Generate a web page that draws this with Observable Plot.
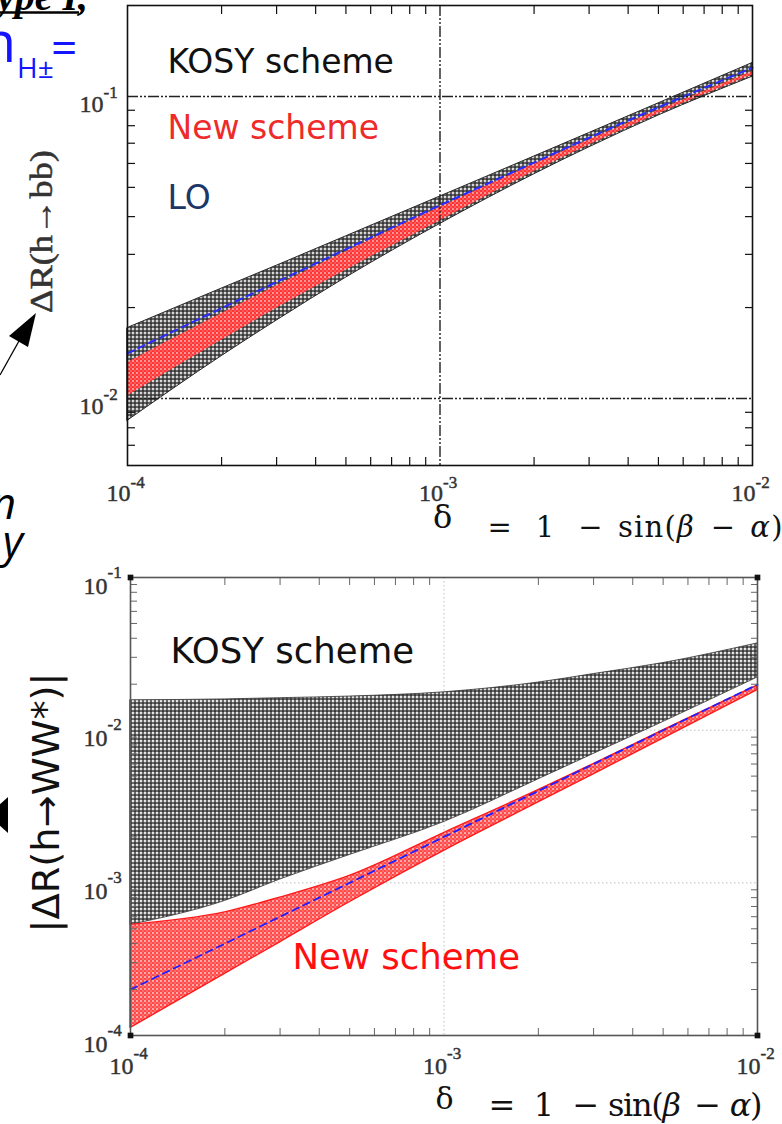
<!DOCTYPE html>
<html><head><meta charset="utf-8">
<script src="https://cdn.jsdelivr.net/npm/d3@7"></script>
<script src="https://cdn.jsdelivr.net/npm/@observablehq/plot@0.6"></script>
<style>
html,body{margin:0;padding:0;background:#fff;}
#wrap{position:relative;width:782px;height:1124px;overflow:hidden;background:#fff;}
#wrap > svg{position:absolute;left:0;}
</style></head><body><div id="wrap"></div>
<script>
// ---------- data ----------
const deltas = [1e-4, 2e-4, 3e-4, 5e-4, 1e-3, 2e-3, 3e-3, 5e-3, 1e-2];
// upper panel: ΔR(h→bb)
const bbKosyUpper = [0.0171, 0.0231, 0.0275, 0.0344, 0.0466, 0.0632, 0.0756, 0.0948, 0.1290];
const bbKosyLower = [0.00843, 0.0138, 0.0181, 0.0251, 0.0378, 0.0552, 0.0678, 0.0864, 0.1162];
const bbNewUpper  = [0.01315, 0.0191, 0.0236, 0.0306, 0.0430, 0.0596, 0.0717, 0.0900, 0.1210];
const bbNewLower  = [0.0102, 0.0156, 0.0199, 0.0266, 0.0388, 0.0564, 0.0690, 0.0877, 0.1178];
const bbLO        = [0.0141, 0.0199, 0.0243, 0.0312, 0.0436, 0.0604, 0.0730, 0.0920, 0.1245];
// lower panel: |ΔR(h→WW*)|
const wwKosyUpper = [0.0157, 0.0159, 0.0162, 0.0166, 0.0177, 0.0205, 0.0233, 0.0275, 0.0370];
const wwKosyLower = [0.00053, 0.00076, 0.00105, 0.00152, 0.00250, 0.00476, 0.00698, 0.0113, 0.0221];
const wwNewUpper  = [0.00053, 0.00064, 0.00080, 0.00111, 0.00212, 0.00405, 0.00600, 0.00995, 0.0196];
const wwNewLower  = [0.000112, 0.000253, 0.000408, 0.000746, 0.00162, 0.00336, 0.00514, 0.0088, 0.0183];
const wwLO        = [0.0002, 0.0004, 0.0006, 0.0010, 0.0020, 0.0040, 0.0060, 0.00998, 0.0199];

// axes / ticks
const xDomain = [1e-4, 1e-2];
const bbYDomain = [0.006, 0.2];
const wwYDomain = [1e-4, 1e-1];
const xTickValues = [1e-4, 1e-3, 1e-2];
const xTickExps = ["-4", "-3", "-2"];
const bbYTickValues = [0.1, 0.01];
const bbYTickExps = ["-1", "-2"];
const wwYTickValues = [0.1, 0.01, 0.001, 0.0001];
const wwYTickExps = ["-1", "-2", "-3", "-4"];
const minorX = [2e-4,3e-4,4e-4,5e-4,6e-4,7e-4,8e-4,9e-4,2e-3,3e-3,4e-3,5e-3,6e-3,7e-3,8e-3,9e-3];
const bbMinorY = [0.007,0.008,0.009,0.02,0.03,0.04,0.05,0.06,0.07,0.08,0.09];
const wwMinorY = [2e-4,3e-4,4e-4,5e-4,6e-4,7e-4,8e-4,9e-4,2e-3,3e-3,4e-3,5e-3,6e-3,7e-3,8e-3,9e-3,0.02,0.03,0.04,0.05,0.06,0.07,0.08,0.09];
const bbGridY = [0.1, 0.01];
const bbGridX = [1e-3];
const wwGridY = [0.01, 0.001];
const wwGridX = [1e-3];
const bbLegend = ["KOSY scheme", "New scheme", "LO"];
const bbLegendColors = ["#111", "#ee2a2a", "#1c3668"];
const wwLegend = ["KOSY scheme", "New scheme"];
const xLabelSym = ["δ"];
const xLabelFormula = ["= 1 − sin(β − α)"];
const bbYLabel = ["ΔR(h→bb)"];
const wwYLabel = ["|ΔR(h→WW*)|"];

const bbRows = deltas.map((d, i) => ({d, ku: bbKosyUpper[i], kl: bbKosyLower[i], nu: bbNewUpper[i], nl: bbNewLower[i], lo: bbLO[i]}));
const wwRows = deltas.map((d, i) => ({d, ku: wwKosyUpper[i], kl: wwKosyLower[i], nu: wwNewUpper[i], nl: wwNewLower[i], lo: wwLO[i]}));
const xTicks = xTickValues.map((v, i) => ({v, e: xTickExps[i]}));
const bbYTicks = bbYTickValues.map((v, i) => ({v, e: bbYTickExps[i]}));
const wwYTicks = wwYTickValues.map((v, i) => ({v, e: wwYTickExps[i]}));

const SERIF = "Liberation Serif";
const MATH = "DejaVu Serif";
const SANS = "DejaVu Sans";

function inTicks(xs, ys, len, stroke, sw) {
  const common = {stroke, strokeWidth: sw, fill: "none", label: null, tickSize: len, tickFormat: () => ""};
  return [
    Plot.axisX({...common, anchor: "bottom", ticks: xs, dy: -len}),
    Plot.axisX({...common, anchor: "top", ticks: xs, dy: len}),
    Plot.axisY({...common, anchor: "left", ticks: ys, dx: len}),
    Plot.axisY({...common, anchor: "right", ticks: ys, dx: -len})
  ];
}

function addPatterns(svg, suffix, grey, red) {
  const defs = d3.select(svg).insert("defs", ":first-child");
  const g = defs.append("pattern").attr("id", "kosy" + suffix).attr("patternUnits", "userSpaceOnUse").attr("width", 4).attr("height", 4);
  g.append("rect").attr("width", 4).attr("height", 4).attr("fill", grey[0]);
  g.append("circle").attr("cx", 1).attr("cy", 1).attr("r", 1.05).attr("fill", grey[1]);
  g.append("circle").attr("cx", 3).attr("cy", 3).attr("r", 0.85).attr("fill", grey[2]);
  const r = defs.append("pattern").attr("id", "new" + suffix).attr("patternUnits", "userSpaceOnUse").attr("width", 4).attr("height", 4);
  r.append("rect").attr("width", 4).attr("height", 4).attr("fill", red[0]);
  r.append("circle").attr("cx", 1).attr("cy", 1).attr("r", 0.95).attr("fill", red[1]);
  r.append("circle").attr("cx", 3).attr("cy", 3).attr("r", 0.9).attr("fill", red[2]);
}

function fixTexts(svg, formulaLen, ylabelText, ylabelLen) {
  const s = d3.select(svg);
  s.selectAll("text").filter(function () { return this.textContent.includes("sin("); }).each(function () {
    const t = d3.select(this);
    t.text(null);
    const parts = [["=\u2002\u20091\u2002\u2009−\u2009\u2009sin(", null], ["β", "italic"], ["\u2002−\u2009\u2009", null], ["α", "italic"], [")", null]];
    parts.forEach(([str, st]) => { const ts = t.append("tspan").text(str); if (st) ts.attr("font-style", st); });
    t.attr("textLength", formulaLen).attr("lengthAdjust", "spacing");
  });
  s.selectAll("text").filter(function () { return this.textContent === ylabelText; })
    .attr("textLength", ylabelLen).attr("lengthAdjust", "spacingAndGlyphs");
}

const tickTxt = {fontFamily: SERIF, fill: "#333", stroke: "#333", strokeWidth: 0.45};

// ---------- upper chart ----------
const chartA = Plot.plot({
  width: 782, height: 560,
  marginLeft: 127, marginRight: 30, marginTop: 5, marginBottom: 95,
  x: {type: "log", domain: xDomain},
  y: {type: "log", domain: bbYDomain},
  style: {background: "transparent", overflow: "visible"},
  marks: [
    Plot.areaY(bbRows, {x: "d", y1: "kl", y2: "ku", fill: "url(#kosyA)", stroke: "#2a2a2a", strokeWidth: 1, curve: "monotone-x"}),
    Plot.areaY(bbRows, {x: "d", y1: "nl", y2: "nu", fill: "url(#newA)", curve: "monotone-x"}),
    Plot.lineY(bbRows, {x: "d", y: "lo", stroke: "#2b2bff", strokeWidth: 2, strokeDasharray: "7,5", curve: "monotone-x"}),
    Plot.ruleY(bbGridY, {stroke: "#222", strokeWidth: 1.4, strokeDasharray: "11,2,2,2,2,2"}),
    Plot.ruleX(bbGridX, {stroke: "#222", strokeWidth: 1.4, strokeDasharray: "11,2,2,2,2,2"}),
    ...inTicks(minorX, bbMinorY, 8, "#111", 1.2),
    Plot.frame({stroke: "#111", strokeWidth: 1.6}),
    Plot.text(xTicks, {...tickTxt, x: "v", text: () => "10", frameAnchor: "bottom", textAnchor: "end", lineAnchor: "bottom", dx: 3, dy: 35, fontSize: "24px"}),
    Plot.text(xTicks, {...tickTxt, x: "v", text: "e", frameAnchor: "bottom", textAnchor: "start", lineAnchor: "bottom", dx: 3, dy: 22, fontSize: "17px"}),
    Plot.text(bbYTicks, {...tickTxt, y: "v", text: () => "10", frameAnchor: "left", textAnchor: "end", lineAnchor: "bottom", dx: -24, dy: 16, fontSize: "24px"}),
    Plot.text(bbYTicks, {...tickTxt, y: "v", text: "e", frameAnchor: "left", textAnchor: "start", lineAnchor: "bottom", dx: -24, dy: 2, fontSize: "17px"}),
    Plot.text(bbLegend.slice(0, 1), {text: d => d, frameAnchor: "top-left", textAnchor: "start", lineAnchor: "bottom", dx: 40, dy: 67, fontSize: 33, fontFamily: SANS, fill: bbLegendColors[0]}),
    Plot.text(bbLegend.slice(1, 2), {text: d => d, frameAnchor: "top-left", textAnchor: "start", lineAnchor: "bottom", dx: 40, dy: 133, fontSize: 33, fontFamily: SANS, fill: bbLegendColors[1]}),
    Plot.text(bbLegend.slice(2, 3), {text: d => d, frameAnchor: "top-left", textAnchor: "start", lineAnchor: "bottom", dx: 40, dy: 203, fontSize: 33, fontFamily: SANS, fill: bbLegendColors[2]}),
    Plot.text(xLabelSym, {text: d => d, frameAnchor: "bottom", textAnchor: "middle", lineAnchor: "bottom", dx: 2.5, dy: 62, fontSize: 32, fontFamily: MATH, fill: "#111"}),
    Plot.text(xLabelFormula, {text: d => d, frameAnchor: "bottom-right", textAnchor: "end", lineAnchor: "bottom", dx: 30, dy: 71, fontSize: 29, fontFamily: MATH, fill: "#111"}),
    Plot.text(bbYLabel, {text: d => d, frameAnchor: "left", rotate: -90, textAnchor: "middle", lineAnchor: "middle", dx: -85, dy: -4, fontSize: "31px", fontFamily: SERIF, fill: "#333", stroke: "#333", strokeWidth: 0.5})
  ]
});
addPatterns(chartA, "A", ["#606060", "#e8e8e8", "#151515"], ["#ff3434", "#ffc0c0", "#ff6a6a"]);
fixTexts(chartA, 295, bbYLabel[0], 163);
chartA.style.top = "0px";
document.getElementById("wrap").appendChild(chartA);

// ---------- lower chart ----------
const corners = [
  {x: xDomain[0], y: wwYDomain[0]}, {x: xDomain[1], y: wwYDomain[0]},
  {x: xDomain[0], y: wwYDomain[1]}, {x: xDomain[1], y: wwYDomain[1]}
];
const chartB = Plot.plot({
  width: 782, height: 564,
  marginLeft: 130, marginRight: 25, marginTop: 17, marginBottom: 89,
  x: {type: "log", domain: xDomain},
  y: {type: "log", domain: wwYDomain},
  style: {background: "transparent", overflow: "visible"},
  marks: [
    Plot.ruleY(wwGridY, {stroke: "#bdbdbd", strokeWidth: 1, strokeDasharray: "1.5,2.5"}),
    Plot.ruleX(wwGridX, {stroke: "#bdbdbd", strokeWidth: 1, strokeDasharray: "1.5,2.5"}),
    Plot.areaY(wwRows, {x: "d", y1: "kl", y2: "ku", fill: "url(#kosyB)", stroke: "#333", strokeWidth: 0.8, curve: "monotone-x"}),
    Plot.areaY(wwRows, {x: "d", y1: "nl", y2: "nu", fill: "url(#newB)", stroke: "#ff1a1a", strokeWidth: 1.4, curve: "monotone-x"}),
    Plot.lineY(wwRows, {x: "d", y: "lo", stroke: "#1f1fff", strokeWidth: 1.8, strokeDasharray: "7,5", curve: "monotone-x"}),
    ...inTicks(minorX, wwMinorY, 7, "#666", 1),
    Plot.frame({stroke: "#555", strokeWidth: 1.6}),
    Plot.dot(corners, {x: "x", y: "y", symbol: "square", r: 3.2, fill: "#111"}),
    Plot.text(xTicks, {...tickTxt, x: "v", text: () => "10", frameAnchor: "bottom", textAnchor: "end", lineAnchor: "bottom", dx: 3, dy: 38, fontSize: "24px"}),
    Plot.text(xTicks, {...tickTxt, x: "v", text: "e", frameAnchor: "bottom", textAnchor: "start", lineAnchor: "bottom", dx: 3, dy: 23, fontSize: "17px"}),
    Plot.text(wwYTicks, {...tickTxt, y: "v", text: () => "10", frameAnchor: "left", textAnchor: "end", lineAnchor: "bottom", dx: -23, dy: 16, fontSize: "24px"}),
    Plot.text(wwYTicks, {...tickTxt, y: "v", text: "e", frameAnchor: "left", textAnchor: "start", lineAnchor: "bottom", dx: -23, dy: 0, fontSize: "17px"}),
    Plot.text(wwLegend.slice(0, 1), {text: d => d, frameAnchor: "top-left", textAnchor: "start", lineAnchor: "bottom", dx: 40, dy: 85, fontSize: 35.5, fontFamily: SANS, fill: "#111"}),
    Plot.text(wwLegend.slice(1), {text: d => d, frameAnchor: "top-left", textAnchor: "start", lineAnchor: "bottom", dx: 162, dy: 391, fontSize: 35.5, fontFamily: SANS, fill: "#ff1010"}),
    Plot.text(xLabelSym, {text: d => d, frameAnchor: "bottom", textAnchor: "middle", lineAnchor: "bottom", dx: 0.5, dy: 73, fontSize: 30, fontFamily: MATH, fill: "#111"}),
    Plot.text(xLabelFormula, {text: d => d, frameAnchor: "bottom-right", textAnchor: "end", lineAnchor: "bottom", dx: 5, dy: 80, fontSize: 32, fontFamily: MATH, fill: "#111"}),
    Plot.text(wwYLabel, {text: d => d, frameAnchor: "left", rotate: -90, textAnchor: "middle", lineAnchor: "middle", dx: -83, dy: -4, fontSize: 37, fontFamily: SANS, fill: "#111"})
  ]
});
addPatterns(chartB, "B", ["#6a6a6a", "#f6f6f6", "#111111"], ["#ff4a4a", "#ffd2d2", "#ff7a7a"]);
fixTexts(chartB, 274, wwYLabel[0], 260);
chartB.style.top = "560px";
document.getElementById("wrap").appendChild(chartB);

// ---------- slide fragments around the plots ----------
const NS = "http://www.w3.org/2000/svg";
const deco = document.createElementNS(NS, "svg");
deco.setAttribute("width", 782); deco.setAttribute("height", 1124);
deco.style.position = "absolute"; deco.style.left = "0"; deco.style.top = "0";
deco.innerHTML = `
  <text x="88" y="10" text-anchor="end" font-family="Liberation Serif, serif" font-weight="bold" font-style="italic" font-size="40" fill="#000">Type I,</text>
  <line x1="0" y1="12.5" x2="79" y2="12.5" stroke="#000" stroke-width="2.6"/>
  <text x="16" y="62" text-anchor="end" font-family="Open Sans, sans-serif" font-size="56" fill="#1414ff">m</text>
  <text x="17" y="78" font-family="Open Sans, sans-serif" font-size="28" fill="#1414ff">H±</text>
  <text x="51" y="64" font-family="Open Sans, sans-serif" font-size="46" fill="#1414ff">=</text>
  <line x1="0" y1="375" x2="19" y2="341" stroke="#000" stroke-width="1.3"/>
  <path d="M36,313 L9,336 L28,347 Z" fill="#000"/>
  <text x="16" y="519" text-anchor="end" font-family="Open Sans, sans-serif" font-style="italic" font-size="44" fill="#000">n</text>
  <text x="23" y="557" text-anchor="end" font-family="Open Sans, sans-serif" font-style="italic" font-size="44" fill="#000">y</text>
  <path d="M8,797 L8,833 L-12,815 Z" fill="#000"/>
`;
document.getElementById("wrap").appendChild(deco);
</script></body></html>
